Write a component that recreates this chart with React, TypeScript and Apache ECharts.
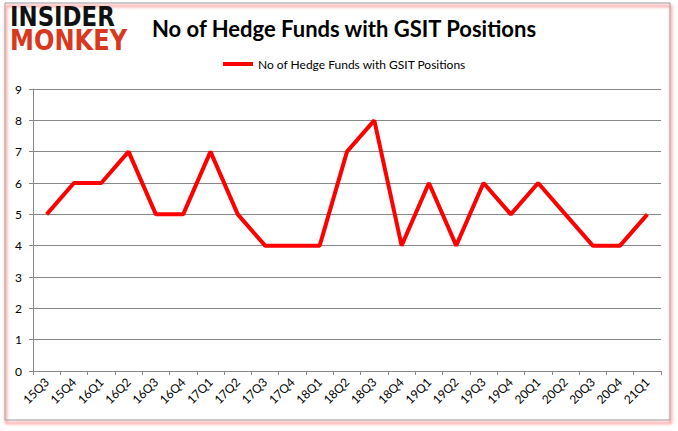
import React, { useEffect, useRef } from "react";
import * as echarts from "echarts";

const categories = ["15Q3","15Q4","16Q1","16Q2","16Q3","16Q4","17Q1","17Q2","17Q3","17Q4","18Q1","18Q2","18Q3","18Q4","19Q1","19Q2","19Q3","19Q4","20Q1","20Q2","20Q3","20Q4","21Q1"];
const values = [5,6,6,7,5,5,7,5,4,4,4,7,8,4,6,4,6,5,6,5,4,4,5];
const seriesName = "No of Hedge Funds with GSIT Positions";
const titleText = "No of Hedge Funds with GSIT Positions";

export default function App() {
  const ref = useRef<HTMLDivElement>(null);
  useEffect(() => {
    if (!ref.current) return;
    const chart = echarts.init(ref.current, null, { renderer: "svg" });
    const font = "Lato, 'Open Sans', sans-serif";
    chart.setOption({
      animation: false,
      backgroundColor: "#ffffff",
      title: {
        text: titleText,
        left: 339,
        textAlign: "center",
        top: 12,
        textStyle: { fontFamily: font, fontSize: 22, fontWeight: "bold", color: "#000" },
      },
      legend: {
        data: [seriesName],
        top: 53,
        left: 218,
        itemWidth: 30,
        itemHeight: 4,
        itemGap: 2,
        icon: "rect",
        textStyle: { fontFamily: font, fontSize: 12, color: "#000" },
      },
      graphic: [
        {
          type: "rect",
          shape: { x: 5, y: 3, width: 665, height: 417 },
          style: { fill: "none", stroke: "#999", lineWidth: 1, shadowColor: "rgba(255,0,0,0.9)", shadowOffsetY: 3, shadowOffsetX: 1, shadowBlur: 3 },
          z: -1,
        },
        {
          type: "text",
          x: 10,
          y: 4,
          scaleX: 0.88,
          style: { text: "INSIDER", fontFamily: "'DejaVu Sans'", fontWeight: "bold", fontSize: 26, fill: "#111" },
        },
        {
          type: "text",
          x: 10,
          y: 26,
          scaleX: 0.86,
          style: { text: "MONKEY", fontFamily: "'DejaVu Sans'", fontWeight: "bold", fontSize: 28, fill: "#d9381e" },
        },
      ],
      grid: { left: 33, right: 17, top: 89, bottom: 60, containLabel: false },
      xAxis: {
        type: "category",
        data: categories,
        boundaryGap: true,
        axisLine: { lineStyle: { color: "#888", width: 1 } },
        axisTick: { show: true, alignWithLabel: false, length: 4, lineStyle: { color: "#888" } },
        axisLabel: { rotate: 45, interval: 0, fontFamily: font, fontSize: 12, color: "#000", margin: 9 },
      },
      yAxis: {
        type: "value",
        min: 0,
        max: 9,
        interval: 1,
        axisLine: { show: true, lineStyle: { color: "#888", width: 1 } },
        axisTick: { show: true, length: 4, lineStyle: { color: "#888" } },
        axisLabel: { fontFamily: font, fontSize: 12, color: "#000", margin: 11 },
        splitLine: { lineStyle: { color: "#888", width: 1 } },
      },
      series: [
        {
          name: seriesName,
          type: "line",
          data: values,
          showSymbol: false,
          symbol: "none",
          lineStyle: { color: "#ff0000", width: 4 },
          itemStyle: { color: "#ff0000" },
        },
      ],
    });
    return () => chart.dispose();
  }, []);
  return <div ref={ref} style={{ position: "fixed", left: 0, top: 0, width: 678, height: 431 }} />;
}
